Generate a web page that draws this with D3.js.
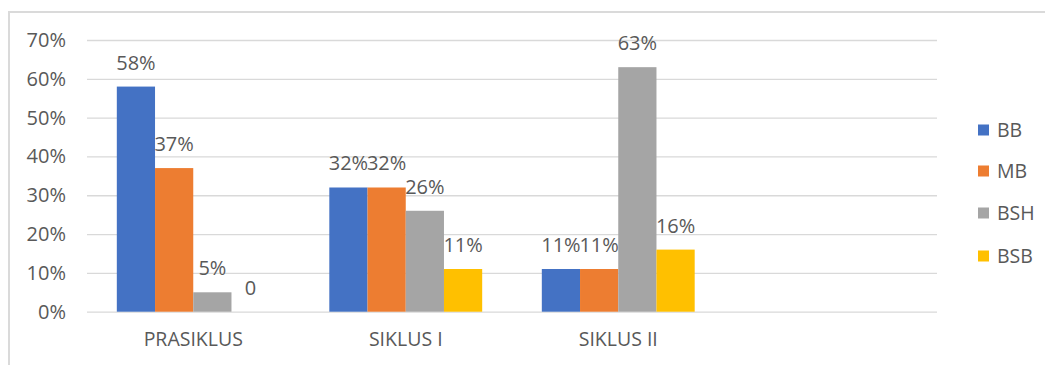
<!DOCTYPE html>
<html>
<head>
<meta charset="utf-8">
<script src="https://cdn.jsdelivr.net/npm/d3@7"></script>
<style>
  html, body { margin: 0; padding: 0; background: #ffffff; }
  svg { display: block; }
  text { font-family: "Open Sans", "Noto Sans", sans-serif; fill: #595959; }
</style>
</head>
<body>
<svg id="chart" width="1045" height="365"></svg>
<script>
// Categories (the fourth slot is an empty row of the source table)
const categories = ["PRASIKLUS", "SIKLUS I", "SIKLUS II", ""];
const seriesNames = ["BB", "MB", "BSH", "BSB"];
const seriesColors = ["#4472C4", "#ED7D31", "#A5A5A5", "#FFC000"];

// Percentages per series, one value per category
const bbValues  = [58, 32, 11, null];
const mbValues  = [37, 32, 11, null];
const bshValues = [5, 26, 63, null];
const bsbValues = [0, 11, 16, null];

const yTicks = [0, 10, 20, 30, 40, 50, 60, 70];

const seriesValues = [bbValues, mbValues, bshValues, bsbValues];

const svg = d3.select("#chart");

// Outer chart-area frame
svg.append("rect")
  .attr("x", 9).attr("y", 12)
  .attr("width", 1060).attr("height", 400)
  .attr("fill", "none")
  .attr("stroke", "#dadada")
  .attr("stroke-width", 2);

const plot = { left: 87, right: 937, top: 40, bottom: 311.7 };

const x0 = d3.scaleBand()
  .domain(categories)
  .range([plot.left, plot.right])
  .paddingInner(0).paddingOuter(0);

const x1 = d3.scaleBand()
  .domain(seriesNames)
  .range([0, x0.bandwidth()])
  .paddingInner(0).paddingOuter(0.78);

const y = d3.scaleLinear()
  .domain([0, 70])
  .range([plot.bottom, plot.top]);

// Horizontal gridlines with percentage labels
const yAxis = d3.axisLeft(y)
  .tickValues(yTicks)
  .tickSize(-(plot.right - plot.left))
  .tickPadding(21)
  .tickFormat(d => d + "%");

const yG = svg.append("g")
  .attr("transform", `translate(${plot.left},0)`)
  .call(yAxis);
yG.select(".domain").remove();
yG.selectAll(".tick line").attr("stroke", "#d9d9d9").attr("stroke-width", 1.3);
yG.selectAll(".tick text")
  .style("font-size", "20px")
  .attr("fill", "#595959");

// Category labels below the baseline
const xAxis = d3.axisBottom(x0).tickSize(0).tickPadding(20);
const xG = svg.append("g")
  .attr("transform", `translate(0,${plot.bottom})`)
  .call(xAxis);
xG.select(".domain").remove();
xG.selectAll(".tick text")
  .style("font-size", "19.5px")
  .attr("fill", "#595959");

// Build the long table for bars
const rows = [];
categories.forEach((cat, ci) => {
  seriesNames.forEach((s, si) => {
    const v = seriesValues[si][ci];
    if (v !== null) rows.push({ cat, series: s, color: seriesColors[si], value: v });
  });
});

svg.append("g").selectAll("rect")
  .data(rows)
  .join("rect")
  .attr("x", d => x0(d.cat) + x1(d.series))
  .attr("y", d => y(d.value))
  .attr("width", x1.bandwidth())
  .attr("height", d => y(0) - y(d.value))
  .attr("fill", d => d.color);

// Value labels above each bar
svg.append("g").selectAll("text")
  .data(rows)
  .join("text")
  .attr("x", d => x0(d.cat) + x1(d.series) + x1.bandwidth() / 2)
  .attr("y", d => y(d.value) - 17)
  .attr("text-anchor", "middle")
  .style("font-size", "20px")
  .text(d => d.value === 0 ? "0" : d.value + "%");

// Legend
const legend = svg.append("g").attr("transform", "translate(978,0)");
const legendY = [130, 171, 213, 256];
seriesNames.forEach((s, i) => {
  const g = legend.append("g").attr("transform", `translate(0,${legendY[i]})`);
  g.append("rect")
    .attr("x", 0).attr("y", -5.5)
    .attr("width", 11).attr("height", 11)
    .attr("fill", seriesColors[i]);
  g.append("text")
    .attr("x", 19).attr("y", 0)
    .attr("dy", "0.35em")
    .style("font-size", "19.5px")
    .text(s);
});
</script>
</body>
</html>
